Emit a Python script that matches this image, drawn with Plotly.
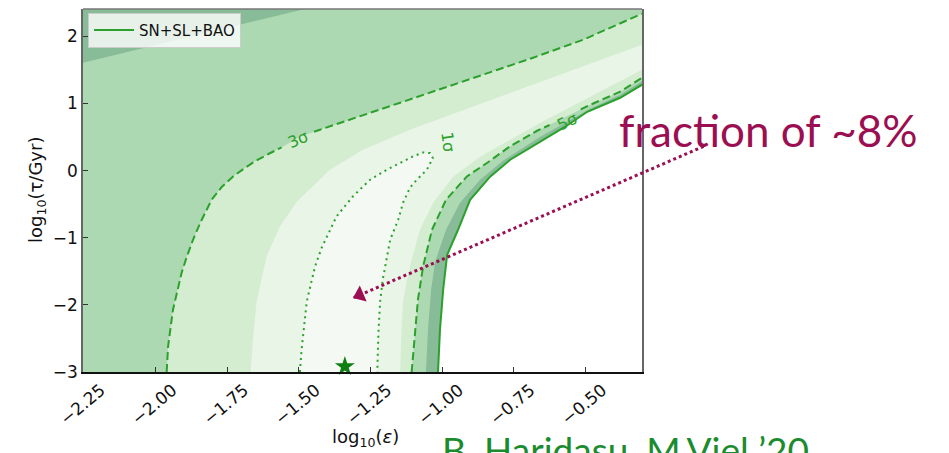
import math
import plotly.graph_objects as go

# ---------------- data ----------------
# axis ranges (log10 eps, log10 tau/Gyr)
XMIN, XMAX = -2.253, -0.302
YMIN, YMAX = -3.0, 2.408

# 1 sigma contour (dotted, closed against the lower axis)
sig1_x = [-1.496, -1.490, -1.472, -1.443, -1.420, -1.368, -1.311, -1.251, -1.193, -1.158,
          -1.101, -1.066, -1.042, -1.032, -1.053, -1.088, -1.112, -1.136, -1.153, -1.181,
          -1.202, -1.207, -1.216, -1.222, -1.226]
sig1_y = [-3.0, -2.668, -1.951, -1.427, -1.149, -0.682, -0.384, -0.136, 0.013, 0.088,
          0.212, 0.271, 0.262, 0.188, 0.013, -0.136, -0.255, -0.478, -0.732, -1.030,
          -1.476, -1.625, -1.951, -2.415, -3.0]

# 3 sigma contour (dashed, left / upper branch)
sig3_x = [-1.961, -1.956, -1.939, -1.909, -1.892, -1.869, -1.842, -1.804, -1.768, -1.730,
          -1.692, -1.650, -1.601, -1.555, -1.496, -1.426, -1.146, -0.912, -0.682, -0.507,
          -0.332, -0.302]
sig3_y = [-3.0, -2.619, -2.072, -1.526, -1.298, -1.030, -0.761, -0.434, -0.240, -0.091,
          0.028, 0.147, 0.259, 0.356, 0.505, 0.610, 1.012, 1.354, 1.682, 1.951,
          2.279, 2.338]

# 5 sigma contour (dashed, right branch)
sig5_x = [-1.106, -1.094, -1.084, -1.066, -1.035, -0.986, -0.913, -0.842, -0.762, -0.668,
          -0.615, -0.490, -0.378, -0.302]
sig5_y = [-3.0, -2.415, -1.923, -1.427, -0.881, -0.434, -0.086, 0.118, 0.364, 0.594,
          0.699, 0.967, 1.176, 1.384]

# filled-band boundaries without lines
band2_top_x = [-1.668, -1.660, -1.647, -1.612, -1.566, -1.507, -1.391, -1.276, -1.112,
               -0.902, -0.657, -0.448, -0.302]
band2_top_y = [-3.0, -2.519, -1.951, -1.278, -0.831, -0.463, 0.013, 0.311, 0.609,
               0.937, 1.324, 1.652, 1.876]
band2_right_x = [-1.146, -1.143, -1.136, -1.122, -1.108, -1.077, -1.031, -0.961, -0.867,
                 -0.762, -0.657, -0.483, -0.302]
band2_right_y = [-3.0, -2.519, -1.951, -1.624, -1.357, -0.881, -0.478, -0.090, 0.207,
                 0.461, 0.714, 1.101, 1.503]
band4_x = [-1.056, -1.049, -1.038, -1.024, -0.986, -0.937, -0.867, -0.787, -0.657,
           -0.483, -0.378, -0.302]
band4_y = [-3.0, -2.369, -1.773, -1.357, -0.881, -0.479, -0.136, 0.147, 0.505,
           0.922, 1.131, 1.332]
corner_x = [-2.253, -1.478]
corner_y = [1.608, 2.408]

# outer edge of the SN+SL+BAO constraint (solid)
edge_x = [-1.014, -1.007, -0.996, -0.982, -0.944, -0.902, -0.832, -0.762, -0.657, -0.570,
          -0.493, -0.378, -0.302]
edge_y = [-3.0, -2.369, -1.773, -1.253, -0.881, -0.434, -0.090, 0.162, 0.431, 0.654,
          0.877, 1.086, 1.280]

bestfit_x = [-1.339]
bestfit_y = [-2.917]

# contour labels: text, x, y, angle
labels = [("3σ", -1.503, 0.460, -24), ("5σ", -0.563, 0.735, -26), ("1σ", -0.980, 0.431, 82)]
ARROW_TAIL = (-0.087, 0.361)
ARROW_TIP = (-1.311, -1.898)

# ---------------- styling ----------------
C0, C1, C2, C3, C4 = "#f4faf3", "#e9f5e7", "#d4edd1", "#acd9b2", "#88bb97"
GREEN = "#2ca02c"
MAROON = "#9b0f52"
PAGE_OFF = 8                      # browser body margin
FIG_W, FIG_H = 949 - PAGE_OFF, 453 - PAGE_OFF
ML, MT = 75, 1
W_PX, H_PX = 559, 363
MR, MB = FIG_W - ML - W_PX, FIG_H - MT - H_PX
PL, PT = ML + PAGE_OFF, MT + PAGE_OFF   # plot-area corner on the page


def px_paper(px, py):
    """page pixel -> paper coords"""
    return (px - PL) / W_PX, (PT + H_PX - py) / H_PX


def to_px(x, y):
    return ((x - XMIN) / (XMAX - XMIN) * W_PX, (YMAX - y) / (YMAX - YMIN) * H_PX)


def from_px(px, py):
    return (XMIN + px / W_PX * (XMAX - XMIN), YMAX - py / H_PX * (YMAX - YMIN))


def gap_line(xs, ys, cx, cy, r):
    """Return the polyline with the part inside a circle (label gap) removed."""
    c = to_px(cx, cy)
    ox, oy = [], []
    for i in range(len(xs) - 1):
        p0 = to_px(xs[i], ys[i])
        p1 = to_px(xs[i + 1], ys[i + 1])
        dx, dy = p1[0] - p0[0], p1[1] - p0[1]
        fx, fy = p0[0] - c[0], p0[1] - c[1]
        a = dx * dx + dy * dy
        b = 2 * (fx * dx + fy * dy)
        cc = fx * fx + fy * fy - r * r
        disc = b * b - 4 * a * cc
        segs = [(0.0, 1.0)]
        if disc > 0 and a > 0:
            s = math.sqrt(disc)
            t1, t2 = (-b - s) / (2 * a), (-b + s) / (2 * a)
            lo, hi = max(t1, 0.0), min(t2, 1.0)
            if lo < hi:
                segs = []
                if lo > 0:
                    segs.append((0.0, lo))
                if hi < 1:
                    segs.append((hi, 1.0))
        for ta, tb in segs:
            xa = xs[i] + (xs[i + 1] - xs[i]) * ta
            ya = ys[i] + (ys[i + 1] - ys[i]) * ta
            xb = xs[i] + (xs[i + 1] - xs[i]) * tb
            yb = ys[i] + (ys[i + 1] - ys[i]) * tb
            if ox and ox[-1] is not None and abs(ox[-1] - xa) < 1e-9 and abs(oy[-1] - ya) < 1e-9:
                ox.append(xb); oy.append(yb)
            else:
                if ox:
                    ox.append(None); oy.append(None)
                ox += [xa, xb]; oy += [ya, yb]
    return ox, oy


fig = go.Figure()


def fill(xs, ys, color):
    fig.add_trace(go.Scatter(x=xs, y=ys, mode="lines", fill="toself", fillcolor=color,
                             line=dict(width=0, color=color), hoverinfo="skip",
                             showlegend=False))


# filled bands (painted from outside in)
fill(band4_x + [XMAX], band4_y + [YMIN], C4)
fill(edge_x + [XMAX], edge_y + [YMIN], "#ffffff")
fill(corner_x + [XMIN], corner_y + [YMAX], C4)
fill(sig3_x + sig5_x[::-1], sig3_y + sig5_y[::-1], C2)
fill(band2_top_x + band2_right_x[::-1], band2_top_y + band2_right_y[::-1], C1)
fill(sig1_x, sig1_y, C0)

# contour lines
gx, gy = gap_line(sig3_x, sig3_y, labels[0][1], labels[0][2], 18)
fig.add_trace(go.Scatter(x=gx, y=gy, mode="lines", line=dict(color=GREEN, width=2, dash="8px,4px"),
                         showlegend=False, hoverinfo="skip"))
gx, gy = gap_line(sig5_x, sig5_y, labels[1][1], labels[1][2], 18)
fig.add_trace(go.Scatter(x=gx, y=gy, mode="lines", line=dict(color=GREEN, width=2, dash="8px,4px"),
                         showlegend=False, hoverinfo="skip"))
fig.add_trace(go.Scatter(x=sig1_x, y=sig1_y, mode="lines", line=dict(color=GREEN, width=2, dash="2px,4px"),
                         showlegend=False, hoverinfo="skip"))
fig.add_trace(go.Scatter(x=edge_x, y=edge_y, mode="lines", line=dict(color=GREEN, width=2),
                         name="SN+SL+BAO", showlegend=True, hoverinfo="skip"))

# best fit star
fig.add_trace(go.Scatter(x=bestfit_x, y=bestfit_y, mode="markers",
                         marker=dict(symbol="star", size=15, color="#0f7f12", line=dict(width=0)),
                         showlegend=False, cliponaxis=False, hoverinfo="skip"))

# arrow: dotted line (paper coords so it can leave the axes) + triangular head
tail_px = to_px(*ARROW_TAIL)
tip_px = to_px(*ARROW_TIP)
fig.add_shape(type="line", xref="paper", yref="paper",
              x0=tail_px[0] / W_PX, y0=1 - tail_px[1] / H_PX,
              x1=tip_px[0] / W_PX, y1=1 - tip_px[1] / H_PX,
              line=dict(color=MAROON, width=3, dash="dot"))
ddx, ddy = tip_px[0] - tail_px[0], tip_px[1] - tail_px[1]
dl = math.hypot(ddx, ddy)
ux, uy = ddx / dl, ddy / dl
head_size = 15
hx, hy = from_px(tip_px[0] - ux * head_size / 2, tip_px[1] - uy * head_size / 2)
ang = math.degrees(math.atan2(ux, -uy))
fig.add_trace(go.Scatter(x=[hx], y=[hy], mode="markers",
                         marker=dict(symbol="triangle-up", size=head_size, angle=ang, color=MAROON,
                                     line=dict(width=0)),
                         showlegend=False, cliponaxis=False, hoverinfo="skip"))

# contour labels
for txt, lx, ly, la in labels:
    fig.add_annotation(x=lx, y=ly, xref="x", yref="y", text=txt, showarrow=False, textangle=la,
                       xanchor="center", yanchor="middle",
                       font=dict(family="DejaVu Sans", size=16, color=GREEN))

# axis titles
ax_, ay_ = px_paper(365, 438)
fig.add_annotation(x=ax_, y=ay_, xref="paper", yref="paper",
                   text="log<sub>10</sub>(<i>ε</i>)", showarrow=False,
                   xanchor="center", yanchor="middle",
                   font=dict(family="DejaVu Sans", size=18, color="#111"))
ax_, ay_ = px_paper(37, 190)
fig.add_annotation(x=ax_, y=ay_, xref="paper", yref="paper",
                   text="log<sub>10</sub>(τ/Gyr)", showarrow=False, textangle=-90,
                   xanchor="center", yanchor="middle",
                   font=dict(family="DejaVu Sans", size=18, color="#111"))

# overlay texts
ax_, ay_ = px_paper(617, 130)
fig.add_annotation(x=ax_, y=ay_, xref="paper", yref="paper",
                   text="fraction of ~8%", showarrow=False, xanchor="left", yanchor="middle",
                   font=dict(family="Lato", size=44, color=MAROON))
ax_, ay_ = px_paper(440, 449)
fig.add_annotation(x=ax_, y=ay_, xref="paper", yref="paper",
                   text="B. Haridasu, M.Viel ’20", showarrow=False, xanchor="left", yanchor="middle",
                   font=dict(family="Lato", size=37, color="#1a8c2e"))

# top spine
fig.add_shape(type="line", xref="paper", yref="paper", x0=0, x1=1, y0=1, y1=1,
              line=dict(color="#777777", width=1.5))

fig.update_layout(
    width=FIG_W, height=FIG_H, autosize=False,
    margin=dict(l=ML, r=MR, t=MT, b=MB, pad=0),
    paper_bgcolor="white", plot_bgcolor=C3,
    showlegend=True,
    legend=dict(x=0.009, y=0.99, xanchor="left", yanchor="top", itemwidth=40,
                bgcolor="rgba(255,255,255,0.8)", bordercolor="#cccccc", borderwidth=1,
                font=dict(family="DejaVu Sans", size=15, color="#111")),
    xaxis=dict(range=[XMIN, XMAX], tick0=-2.25, dtick=0.25, tickformat=".2f",
               showgrid=False, zeroline=False, showline=True, linecolor="#111", linewidth=1.5,
               ticks="inside", ticklen=5, tickwidth=1.2, tickcolor="#333",
               tickangle=-40, ticklabelshift=17, ticklabelstandoff=0,
               tickfont=dict(family="DejaVu Sans", size=17, color="#111")),
    yaxis=dict(range=[YMIN, YMAX], dtick=1, showgrid=False, zeroline=False, showline=True,
               linecolor="#666666", linewidth=1.5, mirror=True,
               ticks="inside", ticklen=5, tickwidth=1.2, tickcolor="#333",
               tickfont=dict(family="DejaVu Sans", size=17, color="#111")),
)

fig.write_html("out.html")
